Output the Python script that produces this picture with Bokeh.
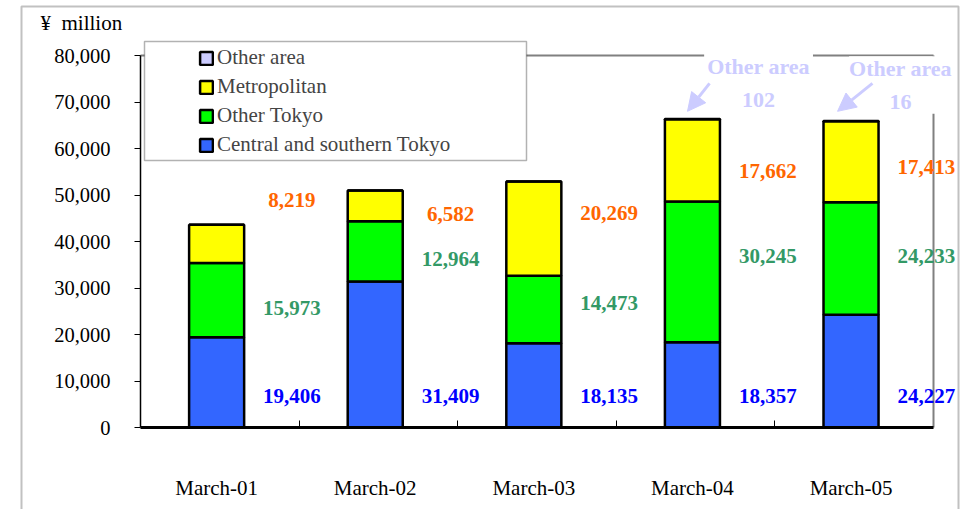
from bokeh.plotting import figure
from bokeh.models import (Range1d, FixedTicker, NumeralTickFormatter, Legend, LegendItem,
                          BoxAnnotation, Label, Arrow, NormalHead, ColumnDataSource)
from bokeh.core.properties import value
from bokeh.embed import file_html
from bokeh.resources import INLINE

# ---------------- data ----------------
categories = ["March-01", "March-02", "March-03", "March-04", "March-05"]
central = [19406, 31409, 18135, 18357, 24227]
other_tokyo = [15973, 12964, 14473, 30245, 24233]
metropolitan = [8219, 6582, 20269, 17662, 17413]
other_area = [0, 0, 0, 102, 16]
y_ticks = [0, 10000, 20000, 30000, 40000, 50000, 60000, 70000, 80000]

# ---------------- layout constants ----------------
FONT = "Liberation Serif"
W, H = 960, 509
PLOT_L, PLOT_R, PLOT_T, PLOT_B = 140, 933, 55, 427   # pixel box of the value area
CENTER = 0.48
BAR_W = 0.347
LABEL_DX = 0.955
lab_y_central = [6700, 6700, 6700, 6700, 6700]
lab_y_tokyo = [25800, 36300, 26700, 36800, 36800]
lab_y_metro = [49000, 46000, 46200, 55100, 56100]
ann_idx = [3, 4]
ann_dx = [0.417, 0.312]
ann_y = [74100, 73650]
ann_pad = [3, 0]
arrow_dx0 = [0.108, 0.135]
arrow_dx1 = [-0.031, -0.085]
ARROW_Y0 = 74000
ARROW_Y1 = 68000

n = len(categories)
y_max = y_ticks[-1]
px_x = (PLOT_R - PLOT_L) / n
px_y = (PLOT_B - PLOT_T) / y_max
x_range = Range1d(-PLOT_L / px_x, n + (W - PLOT_R) / px_x)
y_range = Range1d(-(H - PLOT_B) / px_y, y_max + PLOT_T / px_y)

xs = [round(i + CENTER, 2) for i in range(n)]

src = ColumnDataSource(dict(x=xs, central=central, tokyo=other_tokyo,
                            metro=metropolitan, other=other_area))

p = figure(width=W, height=H, x_range=x_range, y_range=y_range,
           output_backend="svg", toolbar_location=None,
           min_border_left=0, min_border_right=0, min_border_top=0, min_border_bottom=0)
p.background_fill_color = "white"
p.border_fill_color = "white"
p.outline_line_color = None
p.xgrid.visible = False
p.ygrid.visible = False

# gray top / right edges of the value area
p.segment(x0=[0, n], y0=[y_max, 0], x1=[n, n], y1=[y_max, y_max],
          line_color="#808080", line_width=2)

rs = p.vbar_stack(["central", "tokyo", "metro", "other"], x="x", width=BAR_W, source=src,
                  fill_color=["#3366FF", "#00FF00", "#FFFF00", "#CCCCFF"],
                  line_color="black", line_width=2.5)

# axes
yax = p.yaxis[0]
yax.fixed_location = 0
yax.bounds = (0, y_max)
yax.ticker = FixedTicker(ticks=y_ticks)
yax.formatter = NumeralTickFormatter(format="0,0")
yax.major_label_text_font = FONT
yax.major_label_text_font_size = "20.5px"
yax.major_label_text_color = "black"
yax.major_tick_out = 6
yax.major_tick_in = 0
yax.minor_tick_line_color = None
yax.axis_line_width = 1.5
yax.axis_line_color = "black"
yax.major_tick_line_color = "black"
yax.major_label_standoff = 24

xax = p.xaxis[0]
xax.fixed_location = 0
xax.bounds = (0, n)
xax.ticker = FixedTicker(ticks=xs, minor_ticks=list(range(1, n)))
xax.major_label_overrides = {x: c for x, c in zip(xs, categories)}
xax.major_tick_in = 0
xax.major_tick_out = 0
xax.minor_tick_in = 7
xax.minor_tick_out = 0
xax.minor_tick_line_color = "black"
xax.minor_tick_line_width = 1
xax.axis_line_width = 3
xax.axis_line_color = "black"
xax.major_label_text_font = FONT
xax.major_label_text_font_size = "21px"
xax.major_label_text_color = "black"
xax.major_label_standoff = 48

# value labels
lx = [round(i + LABEL_DX, 3) for i in range(n)]
for vals, ys, col in [(central, lab_y_central, "#0000FF"),
                      (other_tokyo, lab_y_tokyo, "#339966"),
                      (metropolitan, lab_y_metro, "#FF6600")]:
    p.text(x=lx, y=ys, text=[f"{v:,}" for v in vals], text_font=value(FONT),
           text_font_style="bold", text_font_size="21px", text_color=col,
           text_align="center", text_baseline="middle")

# outer chart border
p.add_layout(BoxAnnotation(left=21, right=958, top=6, bottom=700,
                           left_units="canvas", right_units="canvas",
                           top_units="canvas", bottom_units="canvas",
                           fill_alpha=0, line_color="#333333", line_width=2), "center")

# legend box
p.add_layout(BoxAnnotation(left=144, right=526, top=41, bottom=160,
                           left_units="canvas", right_units="canvas",
                           top_units="canvas", bottom_units="canvas",
                           fill_color="white", fill_alpha=1, line_color="black",
                           line_width=1.5), "center")

legend = Legend(items=[LegendItem(label="Other area", renderers=[rs[3]]),
                       LegendItem(label="Metropolitan", renderers=[rs[2]]),
                       LegendItem(label="Other Tokyo", renderers=[rs[1]]),
                       LegendItem(label="Central and southern Tokyo", renderers=[rs[0]])],
                location=(198, 352), border_line_color=None, background_fill_alpha=0,
                padding=0, margin=0, spacing=4, glyph_width=16, glyph_height=16,
                label_text_font=FONT, label_text_font_size="21px", label_standoff=3,
                label_height=16)
p.add_layout(legend, "center")

# "Other area" annotations
for k, i in enumerate(ann_idx):
    p.add_layout(Label(x=xs[i] + ann_dx[k], y=ann_y[k],
                       text=f"Other area\n{other_area[i]}", text_align="center",
                       text_baseline="middle", text_font=FONT, text_font_style="bold",
                       text_font_size="22px", text_color="#CCCCFF", text_line_height=1.3,
                       background_fill_color="white", padding=ann_pad[k]), "center")
for k, i in enumerate(ann_idx):
    p.add_layout(Arrow(x_start=xs[i] + arrow_dx0[k], y_start=ARROW_Y0,
                       x_end=xs[i] + arrow_dx1[k], y_end=ARROW_Y1,
                       line_color="#CCCCFF", line_width=3,
                       end=NormalHead(size=18, fill_color="#CCCCFF", line_color="#CCCCFF")), "center")

p.add_layout(Label(x=40, y=22, x_units="canvas", y_units="canvas", text="¥\u00a0\u00a0million",
                   text_font=FONT, text_font_size="21px", text_color="black",
                   text_baseline="middle"), "center")

open("out.html", "w").write(file_html(p, INLINE))
